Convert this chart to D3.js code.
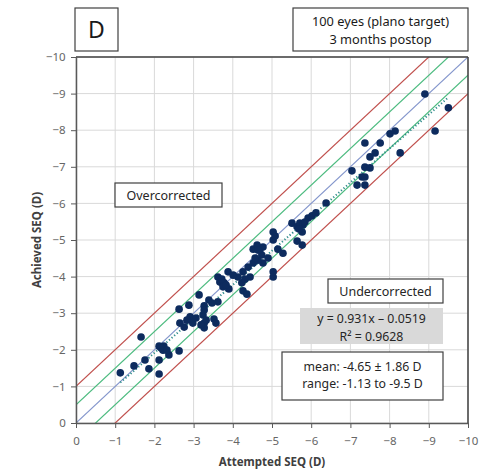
<!DOCTYPE html>
<html>
<head>
<meta charset="utf-8">
<script src="https://cdn.jsdelivr.net/npm/d3@7"></script>
<style>
html,body{margin:0;padding:0;background:#fff;}
svg{display:block;font-family:"Noto Sans","Open Sans",sans-serif;}
</style>
</head>
<body>
<svg id="chart" width="487" height="469"></svg>
<script>
// ---- data ----
const attempted = [
 -1.13,-1.48,-1.66,-1.76,-1.86,-2.12,-2.24,-2.22,-2.12,-2.12,
 -2.37,-2.63,-2.63,-2.65,-2.76,-2.88,-2.91,-2.98,-3.06,-3.24,
 -3.27,-3.27,-3.27,-3.14,-3.39,-3.27,-3.52,-3.57,-3.62,-3.62,
 -3.67,-3.78,-3.75,-3.88,-3.90,-4.13,-4.26,-4.39,-4.44,-4.23,
 -4.26,-4.36,-4.52,-4.77,-4.52,-4.62,-4.69,-4.74,-4.77,-4.90,
 -5.03,-5.03,-5.03,-5.03,-5.15,-5.28,-5.51,-5.64,-5.71,-5.79,
 -5.77,-5.64,-5.77,-5.92,-6.02,-6.12,-6.38,-4.64,-7.04,-7.17,
 -7.30,-7.37,-7.37,-7.37,-7.50,-7.37,-7.50,-7.63,-7.76,-8.01,
 -8.14,-8.27,-8.90,-9.16,-9.50,-2.17,-3.32,-3.19,-3.83,-3.72,
 -4.31,-4.57,-5.08,-5.69,-5.84,-2.83,-2.32,-4.01,-3.47,-4.64
];
const achieved = [
 -1.37,-1.56,-2.35,-1.72,-1.48,-2.10,-2.10,-1.99,-1.72,-1.34,
 -1.86,-1.97,-3.11,-2.73,-2.62,-3.22,-2.90,-2.73,-2.87,-2.95,
 -3.20,-2.73,-2.60,-3.50,-3.36,-3.09,-2.84,-2.73,-3.31,-3.99,
 -3.85,-3.83,-3.72,-4.13,-3.66,-3.99,-4.13,-4.26,-3.99,-3.83,
 -3.61,-3.52,-4.37,-4.37,-4.75,-4.86,-4.73,-4.59,-4.81,-4.51,
 -5.22,-5.00,-4.13,-3.99,-4.75,-4.64,-5.46,-5.36,-5.46,-5.41,
 -5.22,-4.97,-4.86,-5.60,-5.66,-5.74,-6.01,-4.45,-6.89,-6.50,
 -6.72,-6.72,-6.50,-6.99,-6.97,-7.65,-7.27,-7.38,-7.65,-7.90,
 -7.98,-7.38,-8.99,-7.98,-8.61,-2.05,-2.81,-2.68,-3.77,-3.93,
 -3.93,-4.51,-5.11,-5.30,-5.49,-2.81,-1.99,-4.04,-3.28,-4.73
];
const tickValues = [0,-1,-2,-3,-4,-5,-6,-7,-8,-9,-10];
const refOffsets = [1, 0.5, 0, -0.5, -1];
const refColors = ["#c0504d","#4cbb7f","#8496cc","#4cbb7f","#c0504d"];
const regSlope = 0.931, regIntercept = -0.0519;
const regRange = [-1.13, -9.5];
const titleLines = ["100 eyes (plano target)","3 months postop"];
const eqLines = ["y = 0.931x \u2013 0.0519","R\u00b2 = 0.9628"];
const statLines = ["mean: -4.65 \u00b1 1.86 D","range: -1.13 to -9.5 D"];
const panelLabel = "D";

// ---- layout ----
const svg = d3.select("#chart");
const L = 76, R = 468, T = 57, B = 423;
const x = d3.scaleLinear().domain([0,-10]).range([L,R]);
const y = d3.scaleLinear().domain([0,-10]).range([B,T]);

svg.append("defs").append("clipPath").attr("id","plotclip")
  .append("rect").attr("x",L).attr("y",T).attr("width",R-L).attr("height",B-T);

// grid
const grid = svg.append("g");
tickValues.forEach(v=>{
  grid.append("line").attr("x1",x(v)).attr("x2",x(v)).attr("y1",T).attr("y2",B)
    .attr("stroke","#d9d9d9").attr("stroke-width",1);
  grid.append("line").attr("x1",L).attr("x2",R).attr("y1",y(v)).attr("y2",y(v))
    .attr("stroke","#d9d9d9").attr("stroke-width",1);
});

// reference lines
const refG = svg.append("g").attr("clip-path","url(#plotclip)");
refOffsets.forEach((k,i)=>{
  refG.append("line")
    .attr("x1",x(0)).attr("y1",y(0 - k))
    .attr("x2",x(-10)).attr("y2",y(-10 - k))
    .attr("stroke",refColors[i]).attr("stroke-width",1.2);
});

// regression
refG.append("line")
  .attr("x1",x(regRange[0])).attr("y1",y(regSlope*regRange[0]+regIntercept))
  .attr("x2",x(regRange[1])).attr("y2",y(regSlope*regRange[1]+regIntercept))
  .attr("stroke","#2e8b8b").attr("stroke-width",2).attr("stroke-dasharray","1.2,2.2");

// points
svg.append("g").selectAll("circle").data(attempted.map((a,i)=>[a,achieved[i]]))
  .enter().append("circle")
  .attr("cx",d=>x(d[0])).attr("cy",d=>y(d[1])).attr("r",3.8)
  .attr("fill","#0d2b5e");

// axes
const xAxis = d3.axisBottom(x).tickValues(tickValues).tickSize(5).tickSizeOuter(0).tickFormat(d3.format("d"));
const yAxis = d3.axisLeft(y).tickValues(tickValues).tickSize(5).tickSizeOuter(0).tickFormat(d3.format("d"));
const gx = svg.append("g").attr("transform",`translate(0,${B})`).call(xAxis);
const gy = svg.append("g").attr("transform",`translate(${L},0)`).call(yAxis);
[gx,gy].forEach(g=>{
  g.select(".domain").attr("stroke","#595959").attr("stroke-width",1.5);
  g.selectAll(".tick line").attr("stroke","#595959");
  g.selectAll(".tick text").attr("fill","#666").style("font-size","11.5px")
   .style("font-family","'Noto Sans',sans-serif");
});
gx.selectAll(".tick text").attr("dy","1.2em");
gy.selectAll(".tick text").attr("dx","-0.2em");
// top/right border
svg.append("line").attr("x1",L).attr("x2",R).attr("y1",T).attr("y2",T).attr("stroke","#404040").attr("stroke-width",1.5);
svg.append("line").attr("x1",R).attr("x2",R).attr("y1",T).attr("y2",B).attr("stroke","#404040").attr("stroke-width",1.5);

// axis titles
svg.append("text").attr("x",(L+R)/2).attr("y",466).attr("text-anchor","middle")
  .attr("fill","#404040").style("font-size","11.5px").style("font-weight","bold")
  .text("Attempted SEQ (D)");
svg.append("text").attr("transform",`translate(41,${(T+B)/2}) rotate(-90)`)
  .attr("text-anchor","middle").attr("fill","#404040")
  .style("font-size","11.5px").style("font-weight","bold").text("Achieved SEQ (D)");

// boxes
function box(x0,y0,w,h,fill,stroke){
  svg.append("rect").attr("x",x0).attr("y",y0).attr("width",w).attr("height",h)
    .attr("fill",fill).attr("stroke",stroke).attr("stroke-width",stroke==="none"?0:1.2);
}
function lines(cx,ys,arr,size,color){
  arr.forEach((t,i)=>svg.append("text").attr("x",cx).attr("y",ys[i]).attr("text-anchor","middle")
    .attr("fill",color).style("font-size",size).text(t));
}
box(75,8,43,43,"#fff","#404040");
lines(96.5,[38],[panelLabel],"23px","#1a1a1a");

box(293,8,175,43,"#fff","#404040");
lines(380.5,[26,44],titleLines,"12.8px","#1a1a1a");

box(115,183,107,24,"#fff","#404040");
lines(168.5,[200],["Overcorrected"],"12.5px","#262626");

box(328,279,115,24,"#fff","#404040");
lines(385.5,[296],["Undercorrected"],"12.5px","#262626");

box(300,308,143,36,"#d9d9d9","none");
lines(371.5,[323,340.5],eqLines,"12.3px","#262626");

box(282,352,161,48,"#fff","#404040");
lines(362.5,[371,388],statLines,"12.3px","#262626");
</script>
</body>
</html>
